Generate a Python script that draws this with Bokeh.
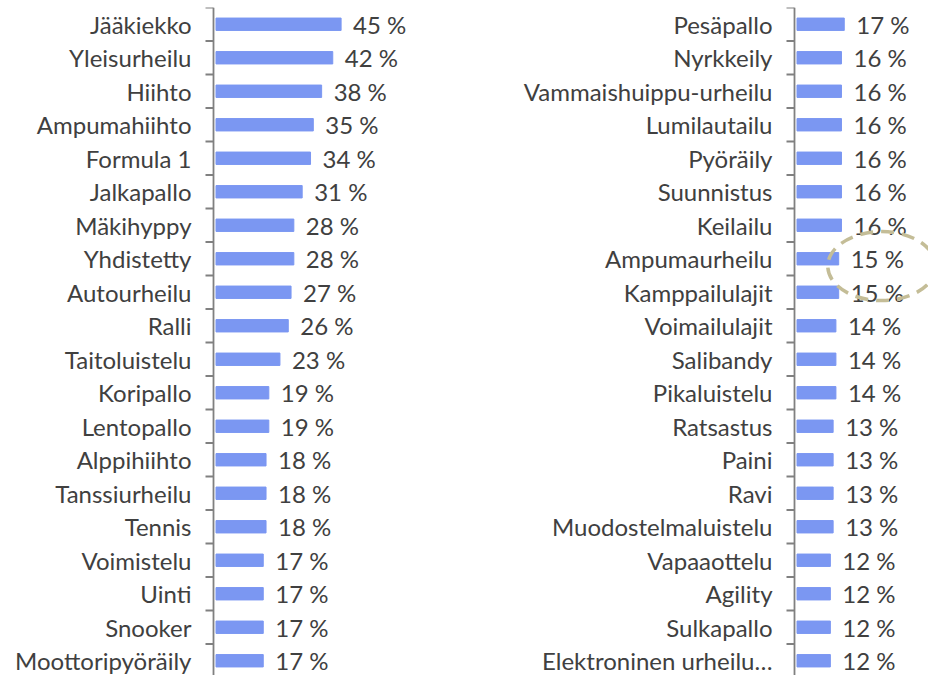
from bokeh.plotting import figure
from bokeh.layouts import row
from bokeh.models import ColumnDataSource, FixedTicker, Range1d, Span
from bokeh.embed import file_html
from bokeh.resources import INLINE
from bokeh.core.properties import value

left_labels = ["Jääkiekko", "Yleisurheilu", "Hiihto", "Ampumahiihto", "Formula 1",
               "Jalkapallo", "Mäkihyppy", "Yhdistetty", "Autourheilu", "Ralli",
               "Taitoluistelu", "Koripallo", "Lentopallo", "Alppihiihto", "Tanssiurheilu",
               "Tennis", "Voimistelu", "Uinti", "Snooker", "Moottoripyöräily"]
left_values = [45, 42, 38, 35, 34, 31, 28, 28, 27, 26, 23, 19, 19, 18, 18, 18, 17, 17, 17, 17]

right_labels = ["Pesäpallo", "Nyrkkeily", "Vammaishuippu-urheilu", "Lumilautailu", "Pyöräily",
                "Suunnistus", "Keilailu", "Ampumaurheilu", "Kamppailulajit", "Voimailulajit",
                "Salibandy", "Pikaluistelu", "Ratsastus", "Paini", "Ravi",
                "Muodostelmaluistelu", "Vapaaottelu", "Agility", "Sulkapallo", "Elektroninen urheilu…"]
right_values = [17, 16, 16, 16, 16, 16, 16, 15, 15, 14, 14, 14, 13, 13, 13, 13, 12, 12, 12, 12]

highlight = ["Ampumaurheilu", "Kamppailulajit"]

FONT = "Lato"
FS = "24px"
TXT = "#404040"
BAR = "#7b97f2"
AXIS = "#808080"
H = 675
TOP = 7
ROW = 33.5
SCALE = 2.78          # px per percent
AX_GAP = 2.5          # px between axis line and bar start
PAD = 10              # px of frame left of axis line (room for ticks)


def panel(labels, values, width, axis_px):
    n = len(labels)
    idx = list(range(n))
    src = ColumnDataSource(dict(y=idx, v=values, t=[f"{v} %" for v in values]))
    border_left = axis_px - PAD
    frame_w = width - border_left
    frame_h = H - TOP
    ax_x = -AX_GAP / SCALE
    x_start = ax_x - PAD / SCALE
    p = figure(width=width, height=H, output_backend="svg", toolbar_location=None,
               x_range=Range1d(x_start, x_start + frame_w / SCALE),
               y_range=Range1d(-0.5 + frame_h / ROW, -0.5),
               x_axis_location=None, min_border_left=border_left, min_border_right=0,
               min_border_top=TOP, min_border_bottom=0)
    p.outline_line_color = None
    p.grid.visible = False
    p.hbar(y="y", left=0, right="v", height=0.37, color=BAR, source=src)
    p.text(x="v", y="y", text="t", source=src, x_offset=12, text_baseline="middle",
           text_align="left", text_font=value(FONT), text_font_size=FS, text_color=TXT)
    # axis line and boundary ticks
    p.add_layout(Span(location=ax_x, dimension="height", line_color=AXIS, line_width=1.8))
    bounds = [i - 0.5 for i in range(n + 1)]
    p.ray(x=[ax_x] * len(bounds), y=bounds, length=8, length_units="screen",
          angle=180, angle_units="deg", line_color=AXIS, line_width=2)
    # category labels
    ax = p.yaxis[0]
    ax.ticker = FixedTicker(ticks=idx, minor_ticks=[])
    ax.major_label_overrides = {i: s for i, s in enumerate(labels)}
    ax.major_tick_line_color = None
    ax.minor_tick_line_color = None
    ax.axis_line_color = None
    ax.major_tick_out = 0
    ax.major_tick_in = 0
    ax.major_label_standoff = 12
    ax.major_label_text_font = FONT
    ax.major_label_text_font_size = FS
    ax.major_label_text_color = TXT
    return p


W1 = 470
p1 = panel(left_labels, left_values, W1, 213)
p2 = panel(right_labels, right_values, 928 - W1, 794 - W1)

hy = [i for i, lab in enumerate(right_labels) if lab in highlight]
hv = [right_values[i] for i in hy]
p2.ellipse(x=[sum(hv) / len(hv) + 15.5], y=[sum(hy) / len(hy) - 0.28], width=108, height=69,
           width_units="screen", height_units="screen", fill_color=None,
           line_color="#c4bd97", line_width=3.5, line_dash="13 8")

layout = row(p1, p2)
open("out.html", "w").write(file_html(layout, INLINE))
